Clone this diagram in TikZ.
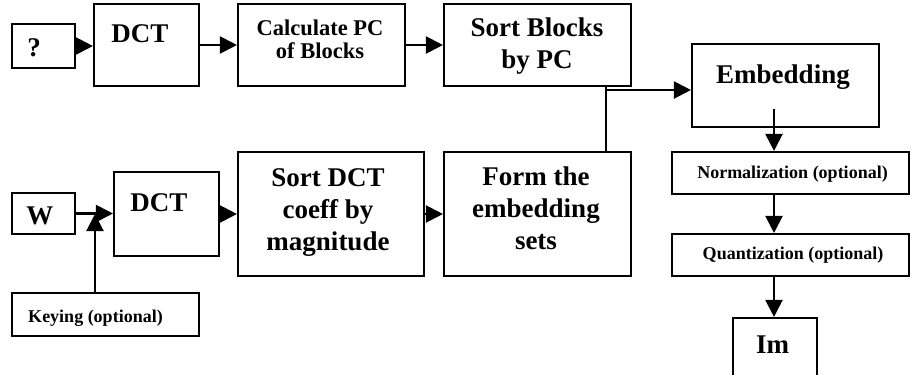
\documentclass[tikz,border=0pt]{standalone}
\usepackage{fontspec}
\setmainfont{Liberation Serif}
\usetikzlibrary{arrows.meta}
% centred multi-line label whose baseline is that of its first line
\newcommand\mlines[1]{\begin{tabular}[t]{@{}c@{}}#1\end{tabular}}

\begin{document}
\begin{tikzpicture}[x=1pt,y=-1pt,
  blk/.style={draw, line width=2.1pt, inner sep=0pt, rectangle},
  lbl/.style={anchor=base, inner sep=0pt, font=\bfseries\fontsize{27}{32}\selectfont},
  small/.style={anchor=base, inner sep=0pt, font=\bfseries\fontsize{22.5}{23}\selectfont},
  tiny/.style={anchor=base, inner sep=0pt, font=\bfseries\fontsize{18}{22}\selectfont},
  link/.style={line width=2.1pt},
  arr/.style={link, -{Triangle[length=17pt,width=17pt]}}]
\useasboundingbox (0,0) rectangle (911,375);
\clip (0,0) rectangle (911,375);
\fill[white] (0,0) rectangle (911,375);

% --- image branch (top row) ---
\node[blk, minimum width=63pt,  minimum height=44pt] (q)     at (43.5,46)  {};
\node[blk, minimum width=105pt, minimum height=82pt] (dcta)  at (146.5,45) {};
\node[blk, minimum width=167pt, minimum height=82pt] (calc)  at (321.5,45) {};
\node[blk, minimum width=187pt, minimum height=82pt] (sortb) at (537.5,45) {};
\node[blk, minimum width=187pt, minimum height=83pt] (emb)   at (785.5,85.5) {};

\node[lbl]   (qT)     at (34,56)   {?};
\node[lbl]   (dctaT)  at (140,42)  {DCT};
\node[small] (calcT)  at (320,35)  {\mlines{Calculate PC\\of Blocks}};
\node[lbl]   (sortbT) at (537,36)  {\mlines{Sort Blocks\\by PC}};
\node[lbl]   (embT)   at (783,83)  {Embedding};

% --- watermark branch (bottom row) ---
\node[blk, minimum width=63pt,  minimum height=41pt]  (w)     at (43.5,213.5) {};
\node[blk, minimum width=105pt, minimum height=84pt]  (dctb)  at (166.5,214)  {};
\node[blk, minimum width=187pt, minimum height=43pt]  (key)   at (105.5,314.5) {};
\node[blk, minimum width=186pt, minimum height=124pt] (sortd) at (331,214)    {};
\node[blk, minimum width=187pt, minimum height=124pt] (form)  at (537.5,214)  {};

\node[lbl]  (wT)     at (40,224)  {W};
\node[lbl]  (dctbT)  at (159,211) {DCT};
\node[tiny] (keyT)   at (95.5,322) {Keying (optional)};
\node[lbl]  (sortdT) at (328,186) {\mlines{Sort DCT\\coeff by\\magnitude}};
\node[lbl]  (formT)  at (536,185) {\mlines{Form the\\embedding\\sets}};

% --- output column ---
\node[blk, minimum width=237pt, minimum height=42pt] (norm)  at (790.5,173) {};
\node[blk, minimum width=237pt, minimum height=42pt] (quant) at (790.5,255) {};
\node[blk, minimum width=84pt,  minimum height=76pt] (im)    at (775,356)   {};

\node[tiny] (normT)  at (792.5,178) {Normalization (optional)};
\node[tiny] (quantT) at (793,259)   {Quantization (optional)};
\node[lbl]  (imT)    at (772.5,353) {Im};

% --- connectors ---
\draw[arr] (q.east) -- (q.east -| dcta.west);
\draw[arr] (dcta) -- (calc);
\draw[arr] (calc) -- (sortb);

\coordinate (j) at (606,90);
\draw[link] (j |- form.north) -- (j |- sortb.south);
\draw[arr] (j) -- (j -| emb.west);

\coordinate (e0) at (774,109);
\draw[arr] (e0) -- (e0 |- norm.north);
\draw[arr] (e0 |- norm.south) -- (e0 |- quant.north);
\draw[arr] (e0 |- quant.south) -- (e0 |- im.north);

\draw[arr] (w.east) -- (w.east -| dctb.west);
\coordinate (k) at (95,214);
\draw[arr] (k |- key.north) -- (k);
\draw[arr] (dctb) -- (sortd);
\draw[arr] (sortd) -- (form);
\end{tikzpicture}
\end{document}
